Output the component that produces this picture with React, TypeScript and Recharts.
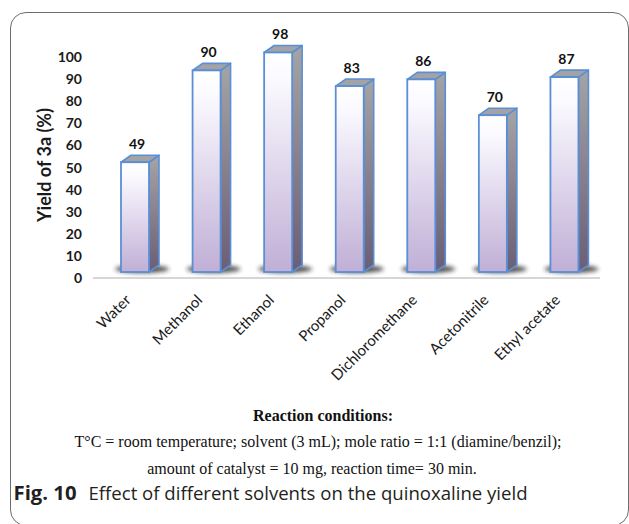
import { ComposedChart, Bar, Line, XAxis, YAxis, LabelList } from "recharts";

const solvents = ["Water", "Methanol", "Ethanol", "Propanol", "Dichloromethane", "Acetonitrile", "Ethyl acetate"];
const yields = [49, 90, 98, 83, 86, 70, 87];
const yTicks = [0, 10, 20, 30, 40, 50, 60, 70, 80, 90, 100];

const conditionLines = [
    "T°C = room temperature; solvent (3 mL); mole ratio = 1:1 (diamine/benzil);",
    "amount of catalyst = 10 mg, reaction time= 30 min.",
];

const data = solvents.map((solvent, i) => ({ solvent, yield: yields[i] }));

// depth of the fake 3D extrusion
const DX = 10;
const DY = 7;
const EDGE = "#5a8fd6";

function Bar3D(props: any) {
    const { x, y, width, height } = props;
    const id = `bar${props.index ?? 0}`;
    const bottom = y + height;
    return (
        <g>
            <defs>
                <linearGradient id={`${id}-front`} x1="0" y1="0" x2="0" y2="1">
                    <stop offset="0" stopColor="#ffffff" />
                    <stop offset="0.12" stopColor="#fbfaff" />
                    <stop offset="1" stopColor="#c0afd6" />
                </linearGradient>
                <linearGradient id={`${id}-side`} x1="0" y1="0" x2="0" y2="1">
                    <stop offset="0" stopColor="#a4a4a6" />
                    <stop offset="1" stopColor="#6a5e76" />
                </linearGradient>
                <filter id={`${id}-blur`} x="-50%" y="-100%" width="200%" height="300%">
                    <feGaussianBlur stdDeviation="2.2" />
                </filter>
            </defs>
            <ellipse
                cx={x + width / 2 + 7}
                cy={bottom - 3}
                rx={width / 2 + 13}
                ry={4}
                fill="#1e1e1e"
                opacity={0.75}
                filter={`url(#${id}-blur)`}
            />
            <polygon
                points={`${x + width},${y} ${x + width + DX},${y - DY} ${x + width + DX},${bottom - DY} ${x + width},${bottom}`}
                fill={`url(#${id}-side)`}
                stroke={EDGE}
                strokeWidth={1.6}
                strokeLinejoin="round"
            />
            <polygon
                points={`${x},${y} ${x + DX},${y - DY} ${x + width + DX},${y - DY} ${x + width},${y}`}
                fill="#a3a3a5"
                stroke={EDGE}
                strokeWidth={1.6}
                strokeLinejoin="round"
            />
            <rect x={x} y={y} width={width} height={height} fill={`url(#${id}-front)`} stroke={EDGE} strokeWidth={1.8} />
        </g>
    );
}

function ValueLabel(props: any) {
    const vb = props.viewBox ?? props;
    return (
        <text
            x={vb.x + vb.width / 2 + 2}
            y={vb.y - 13.5}
            textAnchor="middle"
            fontFamily="Lato"
            fontWeight={700}
            fontSize={14}
            fill="#111"
        >
            {props.value}
        </text>
    );
}

function SolventTick(props: any) {
    const { x, y, payload } = props;
    return (
        <g transform={`translate(${x - 3},${y + 23})`}>
            <text textAnchor="end" transform="rotate(-45)" fontFamily="Lato" fontSize={15} fill="#1a1a1a">
                {payload.value}
            </text>
        </g>
    );
}

export default function App() {
    return (
        <div style={{ position: "absolute", left: 0, top: 0, width: 629, height: 524, background: "#fff", overflow: "hidden" }}>
            <div
                style={{
                    position: "absolute",
                    left: 10,
                    top: 12,
                    width: 619,
                    height: 514,
                    boxSizing: "border-box",
                    border: "1.5px solid #6d6d6d",
                    borderRadius: 16,
                }}
            />
            <div style={{ position: "absolute", left: 0, top: 0 }}>
                <ComposedChart width={629} height={410} data={data} margin={{ top: 35, right: 29, bottom: 32, left: 0 }}>
                    <XAxis
                        dataKey="solvent"
                        interval={0}
                        height={100}
                        padding={{ left: 6, right: 0 }}
                        tickLine={false}
                        tickSize={0}
                        tickMargin={0}
                        axisLine={{ stroke: "#d6d6d6", strokeWidth: 2 }}
                        tick={<SolventTick />}
                    />
                    <YAxis
                        yAxisId="ticks"
                        width={93}
                        domain={[0, 110]}
                        ticks={yTicks}
                        axisLine={false}
                        tickLine={false}
                        tickSize={0}
                        tickMargin={11}
                        tick={{ fontFamily: "Lato", fontWeight: 700, fontSize: 14, fill: "#1a1a1a" }}
                    />
                    {/* bars sit on a slightly offset scale, like the perspective floor */}
                    <YAxis yAxisId="bars" orientation="right" width={0} hide domain={[-2.68, 105.8]} />
                    {/* invisible series so the tick axis gets registered */}
                    <Line yAxisId="ticks" dataKey="yield" stroke="none" dot={false} activeDot={false} isAnimationActive={false} />
                    <Bar yAxisId="bars" dataKey="yield" barSize={28} shape={<Bar3D />} isAnimationActive={false}>
                        <LabelList dataKey="yield" content={<ValueLabel />} />
                    </Bar>
                </ComposedChart>
            </div>
            <svg width={629} height={524} style={{ position: "absolute", left: 0, top: 0, pointerEvents: "none" }}>
                <text
                    x={51}
                    y={165}
                    transform="rotate(-90 51 165)"
                    textAnchor="middle"
                    fontFamily="Lato"
                    fontWeight={700}
                    fontSize={18}
                    fill="#1a1a1a"
                >
                    Yield of 3a (%)
                </text>
                <text x={323} y={421} textAnchor="middle" fontFamily="Liberation Serif" fontWeight={700} fontSize={16} fill="#111">
                    Reaction conditions:
                </text>
                <text x={318} y={447} textAnchor="middle" fontFamily="Liberation Serif" fontSize={16} fill="#111">
                    {conditionLines[0]}
                </text>
                <text x={312} y={474} textAnchor="middle" fontFamily="Liberation Serif" fontSize={16} fill="#111">
                    {conditionLines[1]}
                </text>
                <text x={13.5} y={500} fontFamily="Open Sans" fontWeight={700} fontSize={19} fill="#231f20" textLength={63} lengthAdjust="spacingAndGlyphs">
                    Fig. 10
                </text>
                <text x={88.5} y={500} fontFamily="Open Sans" fontSize={19} fill="#231f20" textLength={439} lengthAdjust="spacingAndGlyphs">
                    Effect of different solvents on the quinoxaline yield
                </text>
            </svg>
        </div>
    );
}
